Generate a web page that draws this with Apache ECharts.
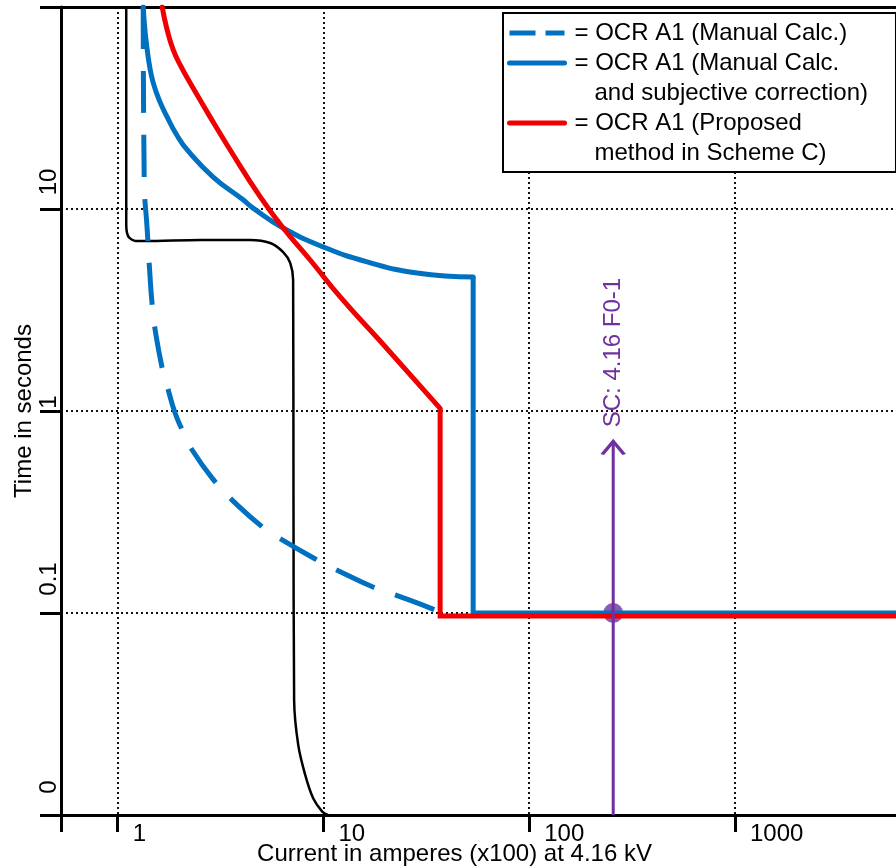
<!DOCTYPE html>
<html>
<head>
<meta charset="utf-8">
<script src="https://cdn.jsdelivr.net/npm/echarts@6/dist/echarts.min.js"></script>
<style>
  html, body { margin: 0; padding: 0; background: #fff; }
  #chart { width: 896px; height: 868px; }
</style>
</head>
<body>
<div id="chart"></div>
<script>
// Time-current coordination curves on log-log axes.
// Current: amperes x100 at 4.16 kV; time: seconds.

// Downstream protective device (thin black curve)
const deviceX = [1.10, 1.10, 1.11, 1.14, 1.22, 1.36, 2.52, 4.40, 5.51, 6.37, 6.89, 7.12, 7.15, 7.20, 7.54, 8.15, 8.91, 9.86, 10.5];
const deviceY = [100, 8.33, 7.6, 7.2, 6.95, 6.95, 7.03, 7.03, 6.79, 6.12, 5.41, 4.46, 0.36, 0.037, 0.0222, 0.0158, 0.0121, 0.0104, 0.01];

// OCR A1, manual calculation (dashed blue)
const manualX = [1.33, 1.345, 1.391, 1.439, 1.471, 1.52, 1.645, 1.76, 1.90, 2.06, 2.30, 2.98, 3.60, 5.04, 6.30, 9.32, 11.66, 17.4, 22.3, 34.9, 36.9];
const manualY = [100, 13.9, 7.87, 4.46, 3.35, 2.52, 1.63, 1.27, 0.977, 0.805, 0.641, 0.445, 0.362, 0.267, 0.230, 0.183, 0.163, 0.1345, 0.123, 0.1035, 0.1];

// OCR A1, manual calculation with subjective correction (solid blue)
const correctedX = [1.33, 1.353, 1.391, 1.431, 1.488, 1.591, 1.740, 1.924, 2.177, 2.91, 4.07, 4.55, 6.37, 9.97, 16.3, 28.5, 53.4];
const correctedY = [100, 78.7, 61.3, 50.5, 42.1, 34.6, 28.5, 23.5, 19.6, 14.4, 11.1, 10.1, 8.05, 6.49, 5.47, 4.82, 4.60];
const correctedStepX = [53.4, 53.4, 6200];
const correctedStepY = [4.60, 0.1, 0.1];

// OCR A1, proposed method in Scheme C (red)
const proposedX = [1.645, 1.73, 1.861, 2.035, 2.25, 2.815, 3.52, 4.93, 6.37, 8.62, 12.06, 18.86, 36.9];
const proposedY = [100, 78.7, 61.3, 50.5, 42.1, 28.5, 19.6, 11.47, 8.05, 5.59, 3.67, 2.22, 1.03];
const proposedStepX = [36.9, 36.9, 6200];
const proposedStepY = [1.03, 0.0966, 0.0966];

// Short-circuit marker at bus F0-1
const scX = [256, 256];
const scY = [0.01, 0.703];
const scPoint = [256, 0.1];
const scLabel = 'SC: 4.16 F0-1';

// Tick labels (decade exponents)
const xTickExp = [0, 1, 2, 3];
const xTickLabels = ['1', '10', '100', '1000'];
const yTickExp = [-2, -1, 0, 1];
const yTickLabels = ['0', '0.1', '1', '10'];

const seriesNames = [
  'OCR A1 (Manual Calc.)',
  'OCR A1 (Manual Calc. and subjective correction)',
  'OCR A1 (Proposed method in Scheme C)'
];
// Two-line entries start with an empty line so the key sits beside their first line
const legendTexts = [
  '= OCR A1 (Manual Calc.)',
  '\n= OCR A1 (Manual Calc.\n   and subjective correction)',
  '\n= OCR A1 (Proposed\n   method in Scheme C)'
];

const FONT = '"Liberation Sans", Arial, sans-serif';
const BLUE = '#0070C0';
const RED = '#F00000';
const PURPLE = '#7030A0';

const zip = (xs, ys) => xs.map((x, i) => [x, ys[i]]);
const decade = (v) => {
  const e = Math.log10(v);
  const r = Math.round(e);
  return Math.abs(e - r) < 1e-6 ? r : null;
};

const gridDots = { color: '#111', width: 2, type: [2, 3] };

const chart = echarts.init(document.getElementById('chart'), null, { renderer: 'canvas' });

chart.setOption({
  animation: false,
  backgroundColor: '#fff',
  textStyle: { fontFamily: FONT },
  grid: { left: 61, top: 7, width: 837, height: 808, outerBoundsMode: 'none' },
  legend: {
    left: 503,
    top: 13,
    orient: 'vertical',
    padding: [5, 28, 4, 4],
    itemGap: -30,
    itemWidth: 55,
    itemHeight: 14,
    backgroundColor: '#fff',
    borderColor: '#000',
    borderWidth: 2,
    selectedMode: false,
    itemStyle: { opacity: 0 },
    lineStyle: { width: 5 },
    textStyle: { fontSize: 24, color: '#000', lineHeight: 30, fontFamily: FONT, padding: [0, 0, 0, 5] },
    formatter: (name) => legendTexts[seriesNames.indexOf(name)],
    data: [
      { name: seriesNames[0], lineStyle: { type: [26, 10] } },
      { name: seriesNames[1] },
      { name: seriesNames[2] }
    ]
  },
  xAxis: [
    {
      type: 'log',
      logBase: 10,
      min: 0.53,
      max: 6200,
      position: 'bottom',
      axisLine: { show: true, onZero: false, lineStyle: { color: '#000', width: 3 } },
      axisTick: { show: true, length: 17, lineStyle: { color: '#000', width: 3 } },
      minorTick: { show: false },
      axisLabel: {
        fontSize: 24,
        color: '#000',
        fontFamily: FONT,
        align: 'left',
        verticalAlign: 'middle',
        margin: 19,
        padding: [0, 0, 0, 15],
        formatter: (v) => {
          const i = xTickExp.indexOf(decade(v));
          return i >= 0 ? xTickLabels[i] : '';
        }
      },
      splitLine: { show: true, showMinLine: false, showMaxLine: false, lineStyle: gridDots },
      name: 'Current in amperes (x100) at 4.16 kV',
      nameLocation: 'middle',
      nameGap: 27,
      nameMoveOverlap: false,
      nameTextStyle: { fontSize: 24, color: '#000', fontFamily: FONT, padding: [0, 50, 0, 0] }
    },
    {
      type: 'value',
      position: 'top',
      min: 0,
      max: 1,
      axisLine: { show: true, onZero: false, lineStyle: { color: '#000', width: 3 } },
      axisTick: { show: false },
      axisLabel: { show: false },
      splitLine: { show: false }
    }
  ],
  yAxis: {
    type: 'log',
    logBase: 10,
    min: 0.01,
    max: 100,
    axisLine: { show: true, onZero: false, lineStyle: { color: '#000', width: 3 } },
    axisTick: { show: true, length: 21, lineStyle: { color: '#000', width: 3 } },
    minorTick: { show: false },
    axisLabel: {
      fontSize: 24,
      color: '#000',
      fontFamily: FONT,
      rotate: 90,
      align: 'center',
      verticalAlign: 'middle',
      margin: 12,
      formatter: (v) => {
        const i = yTickExp.indexOf(decade(v));
        return i >= 0 ? '{p' + i + '|' + yTickLabels[i] + '}' : '';
      },
      rich: {
        p0: { fontSize: 24, padding: [0, 0, 0, 56] },
        p1: { fontSize: 24, padding: [0, 0, 0, 68] },
        p2: { fontSize: 24, padding: [0, 0, 0, 18] },
        p3: { fontSize: 24, padding: [0, 0, 0, 54] }
      }
    },
    splitLine: { show: true, showMinLine: false, showMaxLine: false, lineStyle: gridDots },
    name: 'Time in seconds',
    nameLocation: 'middle',
    nameGap: 25,
    nameMoveOverlap: false,
    nameTextStyle: { fontSize: 24, color: '#000', fontFamily: FONT }
  },
  series: [
    {
      name: 'Device',
      type: 'line',
      data: zip(deviceX, deviceY),
      symbol: 'none',
      smooth: 0.3,
      silent: true,
      lineStyle: { color: '#000', width: 2.5 }
    },
    {
      name: seriesNames[0],
      type: 'line',
      data: zip(manualX, manualY),
      symbol: 'none',
      smooth: 0.5,
      silent: true,
      itemStyle: { color: BLUE },
      lineStyle: { color: BLUE, width: 5, type: [42, 22], cap: 'butt' }
    },
    {
      name: seriesNames[1],
      type: 'line',
      data: zip(correctedX, correctedY),
      symbol: 'none',
      smooth: 0.5,
      silent: true,
      itemStyle: { color: BLUE },
      lineStyle: { color: BLUE, width: 5, cap: 'round' }
    },
    {
      name: seriesNames[1],
      type: 'line',
      data: zip(correctedStepX, correctedStepY),
      symbol: 'none',
      silent: true,
      itemStyle: { color: BLUE },
      lineStyle: { color: BLUE, width: 5, join: 'miter' }
    },
    {
      name: seriesNames[2],
      type: 'line',
      data: zip(proposedX, proposedY),
      symbol: 'none',
      smooth: 0.5,
      silent: true,
      itemStyle: { color: RED },
      lineStyle: { color: RED, width: 5, cap: 'round' }
    },
    {
      name: seriesNames[2],
      type: 'line',
      data: zip(proposedStepX, proposedStepY),
      symbol: 'none',
      silent: true,
      itemStyle: { color: RED },
      lineStyle: { color: RED, width: 5, join: 'miter' }
    },
    {
      name: 'Short circuit',
      type: 'line',
      silent: true,
      showSymbol: true,
      lineStyle: { color: PURPLE, width: 3 },
      itemStyle: { color: PURPLE },
      data: [
        { value: [scX[0], scY[0]], symbol: 'none' },
        {
          value: [scX[1], scY[1]],
          symbol: 'path://M0,12L10,0L20,12',
          symbolSize: [22, 13],
          symbolOffset: [0, 6],
          itemStyle: { color: 'rgba(0,0,0,0)', borderColor: PURPLE, borderWidth: 3 },
          label: {
            show: true,
            formatter: scLabel,
            position: 'top',
            distance: 13,
            rotate: 90,
            align: 'left',
            verticalAlign: 'middle',
            color: PURPLE,
            fontSize: 24,
            fontFamily: FONT
          }
        }
      ]
    },
    {
      name: 'Short circuit point',
      type: 'scatter',
      silent: true,
      data: [scPoint],
      symbol: 'circle',
      symbolSize: 20,
      itemStyle: { color: PURPLE }
    }
  ]
});
</script>
</body>
</html>
